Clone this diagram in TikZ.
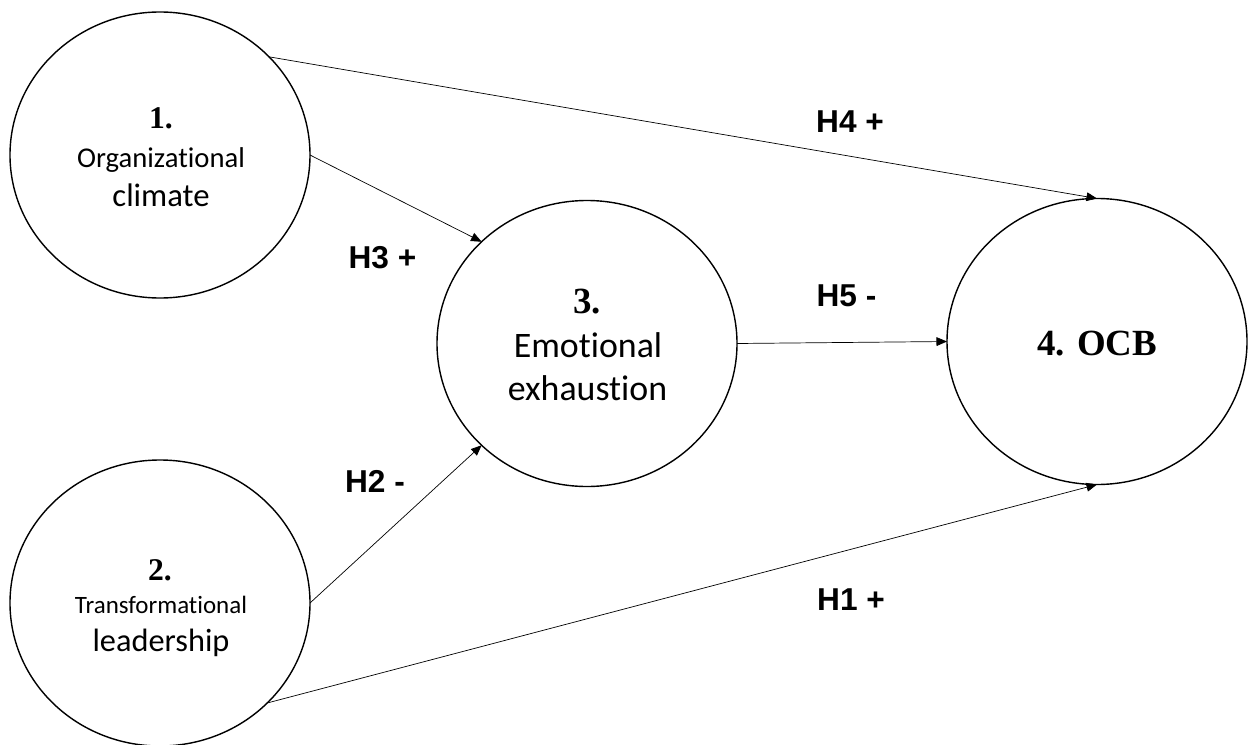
\documentclass[tikz,border=0pt]{standalone}
\usepackage{fontspec}
\setmainfont{Carlito}[Ligatures={NoCommon,NoContextual}, RawFeature={-liga;-clig}]
\newfontfamily\numfont{Liberation Serif}
\newfontfamily\hypfont{Liberation Sans}
\usetikzlibrary{shapes.geometric, arrows.meta}

\tikzset{
  construct/.style={draw, ellipse, line width=0.8pt, minimum width=6cm, minimum height=5.72cm, inner sep=0pt, outer sep=0pt},
  numtxt/.style={anchor=base, inner sep=0pt, font=\numfont\bfseries\fontsize{18}{20}\selectfont},
  nametxt/.style={anchor=base, inner sep=0pt},
  hyp/.style={anchor=base, inner sep=0pt, font=\hypfont\bfseries\fontsize{18}{22}\selectfont},
  effect/.style={-{Triangle[length=6pt,width=5pt]}, line width=0.4pt}
}

\begin{document}
\begin{tikzpicture}
      \useasboundingbox (0,0) rectangle (25,14.88);

      \node[construct] (OC) at (3.2,11.78) {};
      \node[construct] (TL) at (3.2,2.82) {};
      \node[construct] (EE) at (11.74,8.01) {};
      \node[construct] (OCB) at (21.94,8.05) {};

      \node[numtxt] (OCnum) at (3.22,12.32) {1.};
      \node[nametxt, font=\fontsize{16.3}{18}\selectfont] (OCname) at (3.22,11.54) {Organizational};
      \node[nametxt, font=\fontsize{18.6}{22}\selectfont] (OCname2) at (3.22,10.76) {climate};

      \node[numtxt] (TLnum) at (3.2,3.28) {2.};
      \node[nametxt, font=\fontsize{14.2}{16}\selectfont] (TLname) at (3.22,2.62) {Transformational};
      \node[nametxt, font=\fontsize{18.4}{22}\selectfont] (TLname2) at (3.22,1.86) {leadership};

      \node[numtxt, font=\numfont\bfseries\fontsize{21}{25}\selectfont] (EEnum) at (11.74,8.62) {3.};
      \node[nametxt, font=\fontsize{20.4}{24}\selectfont] (EEname) at (11.76,7.74) {Emotional};
      \node[nametxt, font=\fontsize{20.4}{24}\selectfont] (EEname2) at (11.75,6.88) {exhaustion};

      \node[numtxt, font=\numfont\bfseries\fontsize{21}{25}\selectfont] (OCBname) at (21.94,7.78) {4. OCB};

      \node[hyp] (H1) at (17.02,2.68) {H1 +};
      \node[hyp] (H2) at (7.5,5.04) {H2 -};
      \node[hyp] (H3) at (7.65,9.52) {H3 +};
      \node[hyp] (H4) at (17.0,12.24) {H4 +};
      \node[hyp] (H5) at (16.93,8.76) {H5 -};

      \draw[effect] (node cs:name=OC, anchor=42) -- (node cs:name=OCB, anchor=north);
      \draw[effect] (node cs:name=OC, anchor=east) -- (node cs:name=EE, anchor=136);
      \draw[effect] (node cs:name=TL, anchor=east) -- (node cs:name=EE, anchor=224);
      \draw[effect] (node cs:name=TL, anchor=-43) -- (node cs:name=OCB, anchor=south);
      \draw[effect] (node cs:name=EE, anchor=east) -- (node cs:name=OCB, anchor=west);
    \end{tikzpicture}
\end{document}
